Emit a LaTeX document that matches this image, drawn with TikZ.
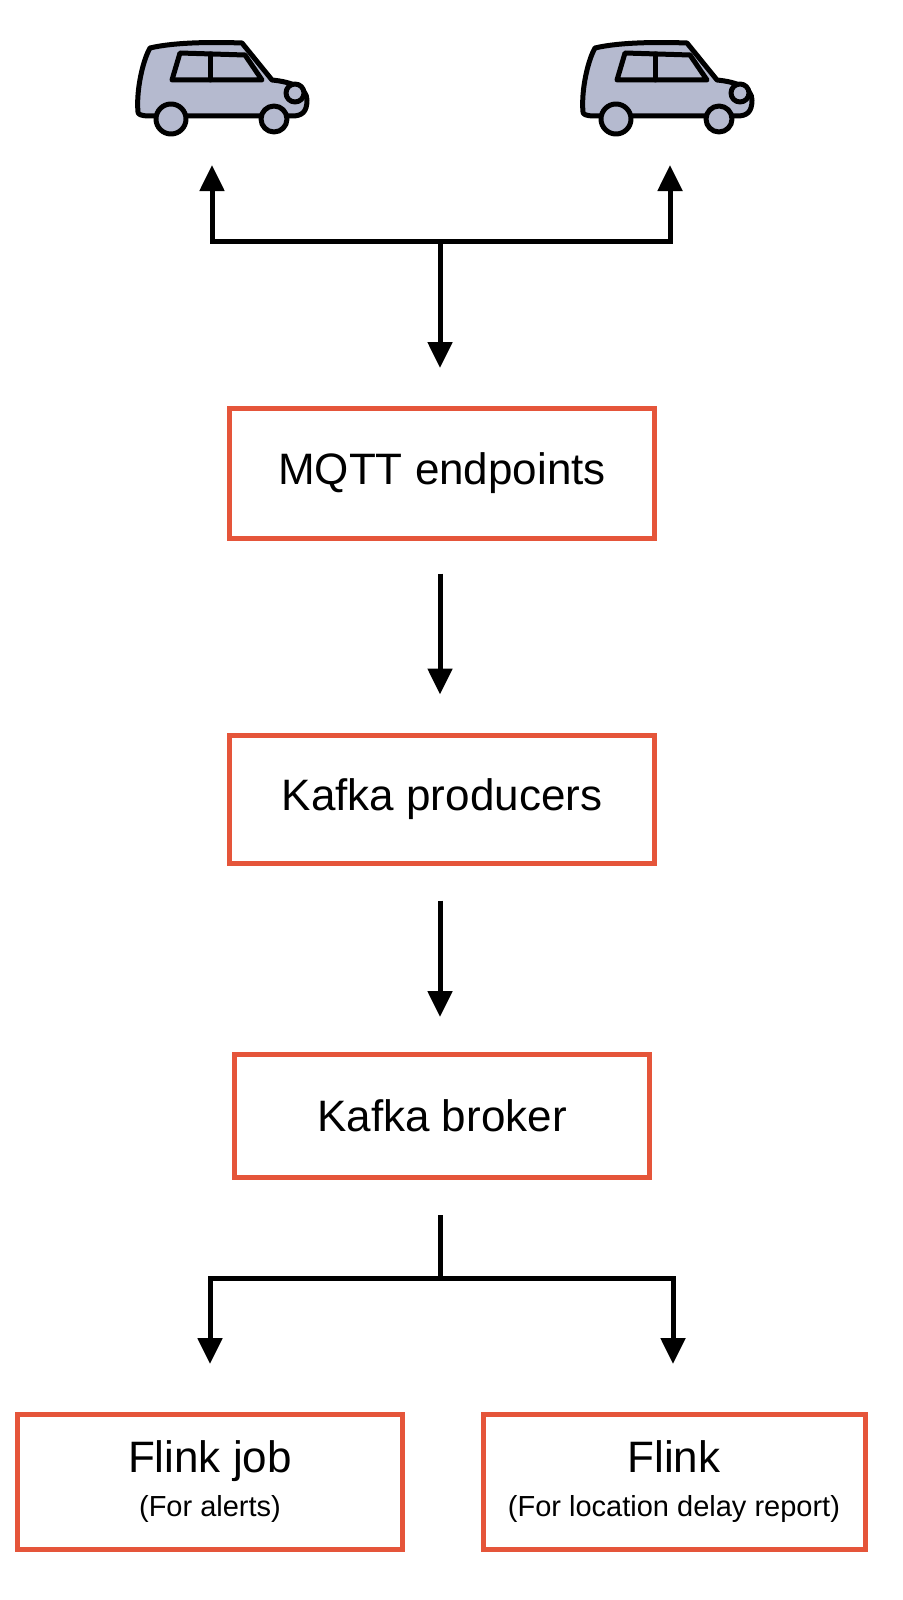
\documentclass[tikz,border=0pt]{standalone}
\usepackage{fontspec}
\setmainfont{Liberation Sans}
\usetikzlibrary{arrows.meta}
\begin{document}
\begin{tikzpicture}[x=1pt,y=-1pt,
  box/.style={draw=boxred,line width=5pt,minimum width=#1,inner sep=0pt,font=\fontsize{44}{50}\selectfont,align=center},
  conn/.style={line width=5pt,-{Triangle[length=26pt,width=24pt]}},
  carline/.style={line width=5pt,line join=round,line cap=round}]
\definecolor{boxred}{HTML}{E5553A}
\definecolor{carfill}{HTML}{B5BACF}
\useasboundingbox (0,0) rectangle (902,1600);
\foreach \dx in {0,445}{
 \begin{scope}[xshift=\dx pt]
  \draw[carline,fill=carfill] (138,112) .. controls (136,90) and (143,60) .. (150,48)
     .. controls (175,42) and (215,42) .. (242,43) -- (272,80)
     .. controls (292,82) and (307,88) .. (307,100) .. controls (307,112) and (302,116) .. (292,116)
     -- (150,116) .. controls (140,116) and (138,114) .. (138,112) -- cycle;
  \draw[carline] (180,53) -- (245,55) -- (262,80) -- (172,80) -- cycle;
  \draw[carline] (210,54) -- (210,80);
  \draw[carline,fill=carfill] (295,93) circle (9);
  \draw[carline,fill=carfill] (171,119) circle (15);
  \draw[carline,fill=carfill] (274,119) circle (13);
 \end{scope}}
\coordinate (carA) at (212,165);
\coordinate (carB) at (670,165);
\coordinate (j1) at (440,241);
\node[box=425pt,minimum height=130pt] (mqtt) at (442,473) {MQTT endpoints};
\node[box=425pt,minimum height=128pt] (prod) at (442,799) {Kafka producers};
\node[box=415pt,minimum height=123pt] (broker) at (442,1116) {Kafka broker};
\node[box=385pt,minimum height=135pt] (f1) at (210,1482) {Flink job\\[-6pt]{\fontsize{29}{33}\selectfont (For alerts)}};
\node[box=382pt,minimum height=135pt] (f2) at (674,1482) {Flink\\[-6pt]{\fontsize{29}{33}\selectfont (For location delay report)}};
\draw[conn] (j1) -| (carA);
\draw[conn] (j1) -| (carB);
\draw[conn] (j1) -- (440,368);
\draw[conn] ([yshift=-33pt,xshift=-2pt]mqtt.south) -- ([yshift=38pt,xshift=-2pt]prod.north);
\draw[conn] ([yshift=-35pt,xshift=-2pt]prod.south) -- ([yshift=35pt,xshift=-2pt]broker.north);
\coordinate (j2) at (440,1278);
\draw[line width=5pt] (440,1215) -- (j2);
\draw[conn] (j2) -| ([yshift=48pt]f1.north);
\draw[conn] (j2) -| ([yshift=48pt,xshift=-1pt]f2.north);
\end{tikzpicture}
\end{document}
